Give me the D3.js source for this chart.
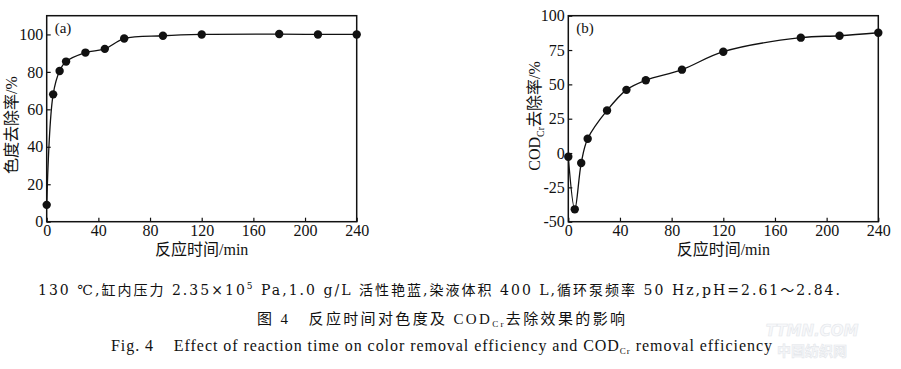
<!DOCTYPE html>
<html>
<head>
<meta charset="utf-8">
<script src="https://cdn.jsdelivr.net/npm/d3@7"></script>
<style>
  body { margin: 0; background: #fff; }
  svg { display: block; }
  text { white-space: pre; }
  .tick text { font-family: "Liberation Serif", "DejaVu Serif", serif; font-size: 16px; fill: #111; }
  .tick line { stroke: #111; stroke-width: 1.2; }
</style>
</head>
<body>
<div id="container"></div>
<script>
/* DATA */
const timeA = [0, 5, 10, 15, 30, 45, 60, 90, 120, 180, 210, 240];
const colorRemoval = [9, 68, 80.5, 85.5, 90.3, 92.3, 97.8, 99.3, 100, 100.2, 100, 100];

const timeB = [0, 5, 10, 15, 30, 45, 60, 88, 120, 180, 210, 240];
const codRemoval = [-2.7, -41, -7.3, 10.4, 31, 46, 53, 60.7, 73.8, 84, 85.4, 87.6];

const xTicks = [0, 40, 80, 120, 160, 200, 240];
const yTicksA = [0, 20, 40, 60, 80, 100];
const yTicksB = [-50, -25, 0, 25, 50, 75, 100];

/* LAYOUT */
const width = 901, height = 369;
const plotTop = 15.7, plotBottom = 221.7;

const svg = d3.select("#container").append("svg")
  .attr("width", width)
  .attr("height", height);

const serif = '"Liberation Serif", "DejaVu Serif", serif';
const cjk = '"Liberation Serif", "Noto Sans CJK SC", serif';
const wideSerif = '"DejaVu Serif", "Noto Sans CJK SC", serif';

function panel(opts) {
  const x = d3.scaleLinear().domain([0, 240]).range([opts.left, opts.left + 310]);
  const y = d3.scaleLinear().domain(opts.yDomain).range([plotBottom, plotTop]);

  const g = svg.append("g");

  // axes with inward ticks
  g.append("g")
    .attr("transform", `translate(0,${plotBottom})`)
    .call(d3.axisBottom(x).tickValues(xTicks).tickSizeInner(-4).tickSizeOuter(0).tickPadding(3).tickFormat(d => String(d)))
    .call(a => a.select(".domain").remove());

  g.append("g")
    .attr("transform", `translate(${opts.left},0)`)
    .call(d3.axisLeft(y).tickValues(opts.yTicks).tickSizeInner(-4).tickSizeOuter(0).tickPadding(3.5).tickFormat(d => String(d)))
    .call(a => a.select(".domain").remove());

  // frame
  g.append("rect")
    .attr("x", x(0)).attr("y", plotTop)
    .attr("width", x(240) - x(0)).attr("height", plotBottom - plotTop)
    .attr("fill", "none").attr("stroke", "#111").attr("stroke-width", 1.5);

  const pts = opts.xs.map((t, i) => [t, opts.ys[i]]);

  const line = d3.line()
    .x(d => x(d[0])).y(d => y(d[1]))
    .curve(d3.curveCatmullRom.alpha(0.5));

  g.append("path")
    .datum(pts)
    .attr("d", line)
    .attr("fill", "none")
    .attr("stroke", "#111")
    .attr("stroke-width", 1.3);

  g.selectAll(".dot")
    .data(pts)
    .join("circle")
    .attr("class", "dot")
    .attr("cx", d => x(d[0]))
    .attr("cy", d => y(d[1]))
    .attr("r", 4.2)
    .attr("fill", "#111");

  // panel letter
  g.append("text")
    .attr("x", opts.left + 8).attr("y", 33)
    .style("font-family", serif).style("font-size", "15px").attr("fill", "#111")
    .text(opts.letter);

  // x title
  g.append("text")
    .attr("x", (x(0) + x(240)) / 2).attr("y", 255)
    .attr("text-anchor", "middle")
    .style("font-family", cjk).style("font-size", "16px").attr("fill", "#111")
    .text("反应时间/min");

  // y title
  const yt = g.append("text")
    .attr("transform", `translate(${opts.yTitleX},${opts.yTitleY}) rotate(-90)`)
    .attr("text-anchor", "middle")
    .style("font-family", cjk).style("font-size", "16px").attr("fill", "#111");
  opts.yTitle(yt);
}

panel({
  left: 46.7, yDomain: [0, 110], yTicks: yTicksA,
  xs: timeA, ys: colorRemoval, letter: "(a)",
  yTitleX: 17, yTitleY: 125,
  yTitle: t => t.text("色度去除率/%")
});

panel({
  left: 568.3, yDomain: [-50, 100], yTicks: yTicksB,
  xs: timeB, ys: codRemoval, letter: "(b)",
  yTitleX: 540, yTitleY: 116,
  yTitle: t => {
    t.append("tspan").text("COD");
    t.append("tspan").attr("dy", 4).style("font-size", "10px").text("Cr");
    t.append("tspan").attr("dy", -4).text("去除率/%");
  }
});

/* CAPTIONS */
// stretch a caption to the width it has in the reference
function fit(t, target) {
  const w = t.node().getComputedTextLength();
  t.attr("textLength", target).attr("lengthAdjust", Math.abs(w - target) < 40 ? "spacingAndGlyphs" : "spacing");
}

const cap1 = svg.append("text")
  .attr("x", 38).attr("y", 295)
  .style("font-family", wideSerif).style("font-size", "14px").attr("fill", "#111");
cap1.append("tspan").text("130 ℃,缸内压力 2.35×10");
cap1.append("tspan").attr("dy", -6).style("font-size", "9px").text("5");
cap1.append("tspan").attr("dy", 6).text(" Pa,1.0 g/L 活性艳蓝,染液体积 400 L,循环泵频率 50 Hz,pH=2.61～2.84.");
fit(cap1, 802);

const cap2 = svg.append("text")
  .attr("x", 257).attr("y", 324)
  .style("font-family", cjk).style("font-size", "15px").attr("fill", "#111");
cap2.append("tspan").text("图 4   反应时间对色度及 COD");
cap2.append("tspan").attr("dy", 3).style("font-size", "9px").text("Cr");
cap2.append("tspan").attr("dy", -3).text("去除效果的影响");
fit(cap2, 368);

const cap3 = svg.append("text")
  .attr("x", 111).attr("y", 351)
  .style("font-family", serif).style("font-size", "16px").attr("fill", "#111");
cap3.append("tspan").text("Fig. 4    Effect of reaction time on color removal efficiency and COD");
cap3.append("tspan").attr("dy", 3).style("font-size", "9px").text("Cr");
cap3.append("tspan").attr("dy", -3).text(" removal efficiency");
fit(cap3, 661);

/* WATERMARK */
svg.append("text")
  .attr("x", 812).attr("y", 336).attr("text-anchor", "middle")
  .style("font-family", '"DejaVu Sans", sans-serif').style("font-size", "15px")
  .style("font-weight", "bold").style("font-style", "italic")
  .attr("fill", "#f7f8fa").attr("stroke", "#e4e7eb").attr("stroke-width", 0.6)
  .text("TTMN.COM");
svg.append("text")
  .attr("x", 812).attr("y", 356).attr("text-anchor", "middle")
  .style("font-family", '"Noto Sans CJK SC", sans-serif').style("font-size", "14px")
  .style("font-weight", "bold")
  .attr("fill", "#f7f8fa").attr("stroke", "#e4e7eb").attr("stroke-width", 0.6)
  .text("中国纺织网");
</script>
</body>
</html>
